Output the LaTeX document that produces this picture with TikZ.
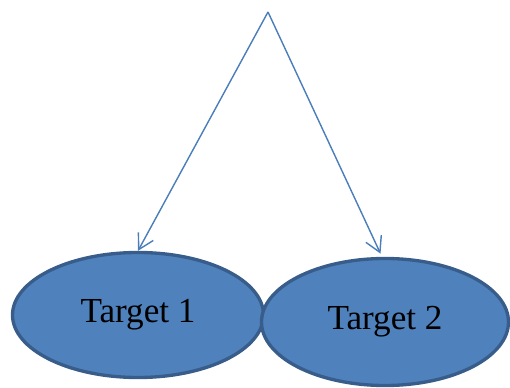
\documentclass[tikz,border=0pt]{standalone}
\usepackage{fontspec}
\setmainfont{Liberation Serif}
\usetikzlibrary{shapes.geometric,arrows.meta}
\definecolor{targetfill}{HTML}{4F81BD}
\definecolor{targetline}{HTML}{385D8A}
\definecolor{arrowline}{HTML}{4A7EBB}
\begin{document}
\begin{tikzpicture}[target/.style={ellipse,draw=targetline,fill=targetfill,line width=1.9pt,inner sep=0pt,minimum width=5.02cm,minimum height=2.5cm,font=\fontsize{20}{23}\selectfont},
    link/.style={draw=arrowline,line width=0.8pt,-{Straight Barb[length=3mm,width=3.4mm]}}]
    \useasboundingbox (0,0) rectangle (10.2,7.74);
    % Ellipses
    \node[target] (t1) at (2.76,1.44) {Target 1};
    \node[target,minimum width=4.94cm,minimum height=2.54cm] (t2) at (7.7,1.3) {Target 2};
    % Arrows
    \coordinate (top) at (5.36,7.5);
    \draw[link] (top) -- (t1.north);
    \draw[link,shorten >=2pt] (top) -- ([xshift=-0.06cm]t2.north);
\end{tikzpicture}
\end{document}
